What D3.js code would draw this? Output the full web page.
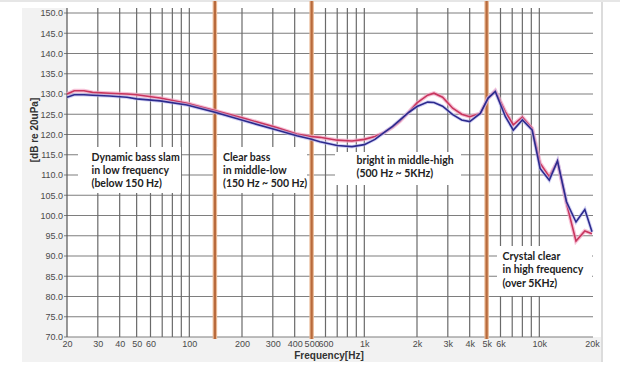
<!DOCTYPE html>
<html>
<head>
<meta charset="utf-8">
<script src="https://cdn.jsdelivr.net/npm/d3@7"></script>
<style>
  html, body { margin: 0; padding: 0; background: #fff; }
  svg { display: block; }
  text { font-family: "Liberation Sans", Arial, sans-serif; }
  .note { font-family: Lato, "Liberation Sans", sans-serif; font-weight: bold; font-size: 10.5px; fill: #222; }
</style>
</head>
<body>
<div id="chart"></div>
<script>
// measured frequency response, two samples
const freqs = [20, 22, 25, 28, 35, 44, 50, 68, 97, 140, 213, 316, 411, 494, 558, 700, 850, 1000, 1150, 1300, 1450, 1600, 1800, 2000, 2300, 2500, 2800, 3200, 3600, 4000, 4600, 5100, 5600, 6400, 7100, 8000, 9100, 10100, 11400, 12700, 14300, 16200, 18200, 20000];
const redSeries = [130.0, 130.8, 130.8, 130.4, 130.2, 130.0, 129.8, 129.0, 127.7, 125.9, 123.8, 121.7, 120.1, 119.5, 119.3, 118.6, 118.4, 118.8, 119.5, 120.5, 121.8, 123.3, 125.6, 127.8, 129.7, 130.2, 129.2, 126.5, 125.0, 124.4, 125.2, 129.0, 130.8, 125.6, 122.4, 124.3, 121.5, 112.9, 109.6, 113.3, 103.0, 93.7, 96.2, 95.5];
const blueSeries = [129.2, 129.8, 129.8, 129.7, 129.5, 129.2, 128.8, 128.3, 127.3, 125.5, 123.2, 121.1, 119.7, 118.9, 118.2, 117.3, 117.0, 117.5, 118.8, 120.5, 122.0, 123.6, 125.5, 126.9, 128.0, 127.9, 127.0, 124.9, 123.6, 123.2, 125.2, 129.0, 130.6, 124.4, 121.1, 123.6, 121.1, 111.6, 108.7, 113.5, 103.4, 98.4, 101.5, 96.0];

const xTickValues = [20, 30, 40, 50, 60, 100, 200, 300, 400, 500, 600, 1000, 2000, 3000, 4000, 5000, 6000, 10000, 20000];
const xTickLabels = ["20", "30", "40", "50", "60", "100", "200", "300", "400", "500", "600", "1k", "2k", "3k", "4k", "5k", "6k", "10k", "20k"];
const xGridValues = [20, 30, 40, 50, 60, 70, 80, 90, 100, 200, 300, 400, 500, 600, 700, 800, 900, 1000, 2000, 3000, 4000, 5000, 6000, 7000, 8000, 9000, 10000];
const yTicks = [70, 75, 80, 85, 90, 95, 100, 105, 110, 115, 120, 125, 130, 135, 140, 145, 150];
const bandEdges = [140, 500, 5000];

const notes = [
  { lines: ["Dynamic bass slam", "in low frequency", "(below 150 Hz)"], box: [78, 147, 103, 46], tx: 91.5, ty: 160.5 },
  { lines: ["Clear bass", "in middle-low", "(150 Hz ~ 500 Hz)"], box: [217, 147, 90, 46], tx: 223, ty: 160.5 },
  { lines: ["bright in middle-high", "(500 Hz ~ 5KHz)"], box: [335, 152, 126, 33], tx: 356.5, ty: 164 },
  { lines: ["Crystal clear", "in high frequency", "(over 5KHz)"], box: [497, 246, 95, 50], tx: 502.5, ty: 260 }
];

const W = 620, H = 371;
const svg = d3.select("#chart").append("svg").attr("width", W).attr("height", H);

const x = d3.scaleLog().domain([20, 20000]).range([67, 592]);
const y = d3.scaleLinear().domain([70, 150]).range([337, 13]);

// panel background
svg.append("rect").attr("x", 0).attr("y", 0).attr("width", W).attr("height", 2).attr("fill", "#e6e6e6");
svg.append("rect").attr("x", 22).attr("y", 8).attr("width", 579).attr("height", 354).attr("fill", "#f2f2f2");
svg.append("rect").attr("x", 67).attr("y", 2).attr("width", 534).attr("height", 335).attr("fill", "#fff");
svg.append("rect").attr("x", 601).attr("y", 2).attr("width", 2).attr("height", 360).attr("fill", "#dcdcdc");

// grid
svg.append("g").selectAll("line").data(yTicks).join("line")
  .attr("x1", 64).attr("x2", x(20000) + 1)
  .attr("y1", d => y(d)).attr("y2", d => y(d))
  .attr("stroke", "#7e7e7e").attr("stroke-width", 1.2);

svg.append("g").selectAll("line").data(xGridValues).join("line")
  .attr("x1", d => x(d)).attr("x2", d => x(d))
  .attr("y1", 8).attr("y2", y(70))
  .attr("stroke", d => d === 20 ? "#555" : "#6a6a6a").attr("stroke-width", 1.2);

// band separators
svg.append("g").selectAll("line").data(bandEdges).join("line")
  .attr("x1", d => x(d)).attr("x2", d => x(d))
  .attr("y1", 1).attr("y2", 339)
  .attr("stroke", "#e9b894").attr("stroke-width", 4.5);
svg.append("g").selectAll("line").data(bandEdges).join("line")
  .attr("x1", d => x(d)).attr("x2", d => x(d))
  .attr("y1", 1).attr("y2", 339)
  .attr("stroke", "#b86a3c").attr("stroke-width", 2.2);

// axes labels
const xAxis = d3.axisBottom(x).tickValues(xTickValues)
  .tickFormat((d, i) => xTickLabels[i]).tickSize(0).tickPadding(4);
svg.append("g").attr("transform", `translate(0,${y(70)})`).call(xAxis)
  .call(g => g.select(".domain").remove())
  .call(g => g.selectAll("text").attr("fill", "#4a4a4a").style("font-size", "9px")
    .style("font-family", "'Liberation Sans', Arial, sans-serif"));

const yAxis = d3.axisLeft(y).tickValues(yTicks).tickFormat(d3.format(".1f")).tickSize(0).tickPadding(4);
svg.append("g").attr("transform", "translate(67,0)").call(yAxis)
  .call(g => g.select(".domain").remove())
  .call(g => g.selectAll("text").attr("fill", "#4a4a4a").style("font-size", "9px")
    .style("font-family", "'Liberation Sans', Arial, sans-serif"));

svg.append("text").attr("transform", "translate(38,130) rotate(-90)")
  .attr("text-anchor", "middle").attr("font-weight", "bold").attr("font-size", 10)
  .attr("fill", "#333").text("[dB re 20uPa]");

svg.append("text").attr("x", 329).attr("y", 359)
  .attr("text-anchor", "middle").attr("font-weight", "bold").attr("font-size", 10)
  .attr("fill", "#333").text("Frequency[Hz]");

// curves
const line = d3.line().x(d => x(d[0])).y(d => y(d[1]));
const redPts = freqs.map((f, i) => [f, redSeries[i]]);
const bluePts = freqs.map((f, i) => [f, blueSeries[i]]);

svg.append("path").datum(redPts).attr("d", line).attr("fill", "none")
  .attr("stroke", "#f2a6c4").attr("stroke-width", 4).attr("stroke-opacity", 0.7);
svg.append("path").datum(redPts).attr("d", line).attr("fill", "none")
  .attr("stroke", "#c8365e").attr("stroke-width", 1.6);
svg.append("path").datum(bluePts).attr("d", line).attr("fill", "none")
  .attr("stroke", "#b8b8ee").attr("stroke-width", 3.5).attr("stroke-opacity", 0.6);
svg.append("path").datum(bluePts).attr("d", line).attr("fill", "none")
  .attr("stroke", "#2c2a8e").attr("stroke-width", 1.6);

// annotation boxes
notes.forEach(n => {
  svg.append("rect").attr("x", n.box[0]).attr("y", n.box[1])
    .attr("width", n.box[2]).attr("height", n.box[3]).attr("fill", "#fff");
  const t = svg.append("text").attr("class", "note").attr("x", n.tx).attr("y", n.ty);
  n.lines.forEach((s, i) => {
    t.append("tspan").attr("x", n.tx).attr("dy", i === 0 ? 0 : 13.3).text(s);
  });
});
</script>
</body>
</html>
